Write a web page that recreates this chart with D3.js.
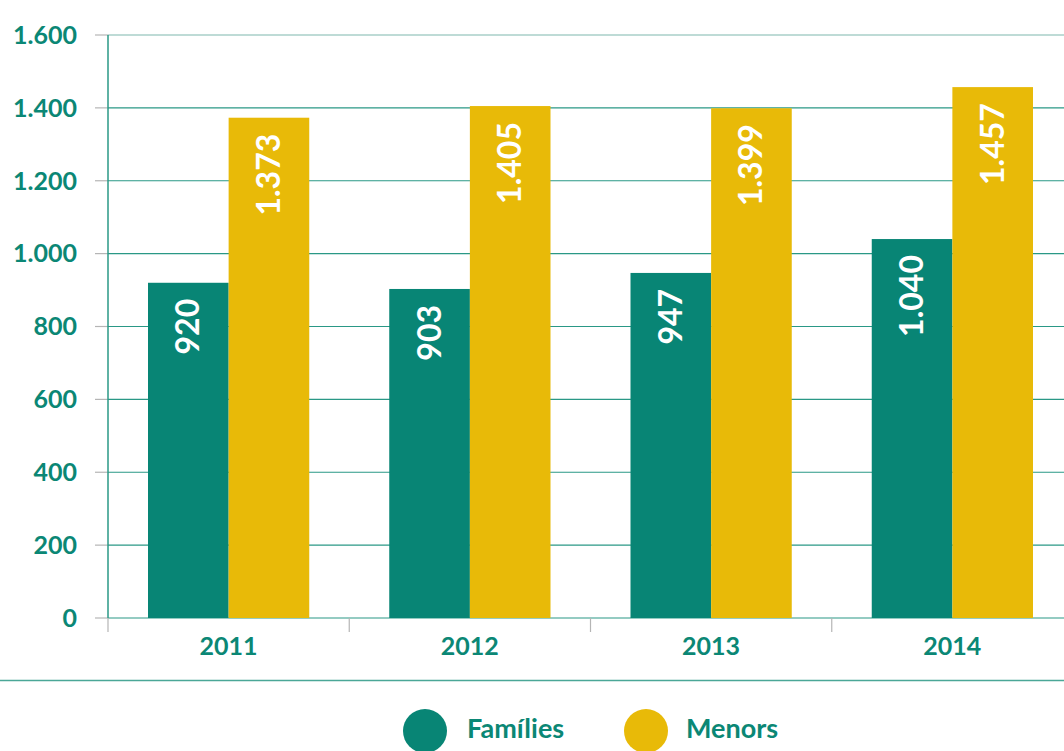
<!DOCTYPE html>
<meta charset="utf-8">
<script src="https://d3js.org/d3.v7.min.js"></script>
<style>
body { margin: 0; background: #fff; }
text { font-family: "Lato", "Open Sans", sans-serif; font-weight: 700; }
</style>
<svg width="1064" height="751"></svg>
<script>
// data
const years = ["2011", "2012", "2013", "2014"]
const familias = [920, 903, 947, 1040]
const menors = [1373, 1405, 1399, 1457]
const seriesNames = ["Famílies", "Menors"]
const yTicks = [0, 200, 400, 600, 800, 1000, 1200, 1400, 1600]

const teal = "#088575", yellow = "#e8ba08", textTeal = "#0b8775"
const fmt = d => d3.format(",")(d).replace(/,/g, ".")

const svg = d3.select("svg")
const m = {left: 108, top: 35, bottom: 618, right: 1073}

const x = d3.scaleBand().domain(years).range([m.left, m.right]).paddingInner(0).paddingOuter(0)
const x1 = d3.scaleBand().domain(seriesNames).range([40, x.bandwidth() - 40])
const y = d3.scaleLinear().domain([0, 1600]).range([m.bottom, m.top])

// gridlines
svg.append("g").selectAll("line").data(yTicks).join("line")
    .attr("x1", m.left).attr("x2", 1064)
    .attr("y1", d => y(d)).attr("y2", d => y(d))
    .attr("stroke", d => d === 1600 ? "#7fb8ae" : "#2a9886").attr("stroke-width", 1.2)

// left tick stubs
svg.append("g").selectAll("line").data(yTicks).join("line")
    .attr("x1", 95).attr("x2", m.left)
    .attr("y1", d => y(d)).attr("y2", d => y(d))
    .attr("stroke", "#b5b5b5").attr("stroke-width", 1.2)

// y tick labels
svg.append("g").selectAll("text").data(yTicks).join("text")
    .attr("x", 77).attr("y", d => y(d)).attr("dy", "0.35em")
    .attr("text-anchor", "end").attr("font-size", 25).attr("fill", textTeal)
    .text(fmt)

// bars
const groups = svg.append("g").selectAll("g").data(years).join("g")
    .attr("transform", d => `translate(${x(d)},0)`)

const rows = (d, i) => [
    {name: "Famílies", value: familias[i], color: teal},
    {name: "Menors", value: menors[i], color: yellow}
]

groups.selectAll("rect").data(rows).join("rect")
    .attr("x", d => x1(d.name)).attr("width", x1.bandwidth())
    .attr("y", d => y(d.value)).attr("height", d => y(0) - y(d.value))
    .attr("fill", d => d.color)

groups.selectAll("text").data(rows).join("text")
    .attr("transform", d => `translate(${x1(d.name) + x1.bandwidth() / 2 + 11},${y(d.value) + 16}) rotate(-90)`)
    .attr("text-anchor", "end").attr("font-size", 32).attr("fill", "#fff")
    .text(d => fmt(d.value))

// y axis line
svg.append("line").attr("x1", m.left).attr("x2", m.left)
    .attr("y1", m.top).attr("y2", m.bottom)
    .attr("stroke", "#2a9886").attr("stroke-width", 1.5)

// x axis ticks
const xb = years.map(d => x(d)).concat([m.right])
svg.append("g").selectAll("line").data(xb).join("line")
    .attr("x1", d => d).attr("x2", d => d)
    .attr("y1", m.bottom).attr("y2", 632)
    .attr("stroke", "#b5b5b5").attr("stroke-width", 1.2)

svg.append("g").selectAll("text").data(years).join("text")
    .attr("x", d => x(d) + x.bandwidth() / 2).attr("y", 646).attr("dy", "0.35em")
    .attr("text-anchor", "middle").attr("font-size", 25).attr("fill", textTeal)
    .text(d => d)

// separator
svg.append("line").attr("x1", 0).attr("x2", 1064).attr("y1", 680.5).attr("y2", 680.5)
    .attr("stroke", "#4aa797").attr("stroke-width", 1.5)

// legend
const legend = [
    {name: seriesNames[0], color: teal, cx: 425, tx: 467},
    {name: seriesNames[1], color: yellow, cx: 646, tx: 686}
]
const lg = svg.append("g").selectAll("g").data(legend).join("g")
lg.append("circle").attr("cx", d => d.cx).attr("cy", 731).attr("r", 22).attr("fill", d => d.color)
lg.append("text").attr("x", d => d.tx).attr("y", 729).attr("dy", "0.35em")
    .attr("font-size", 27).attr("fill", textTeal).text(d => d.name)
</script>
